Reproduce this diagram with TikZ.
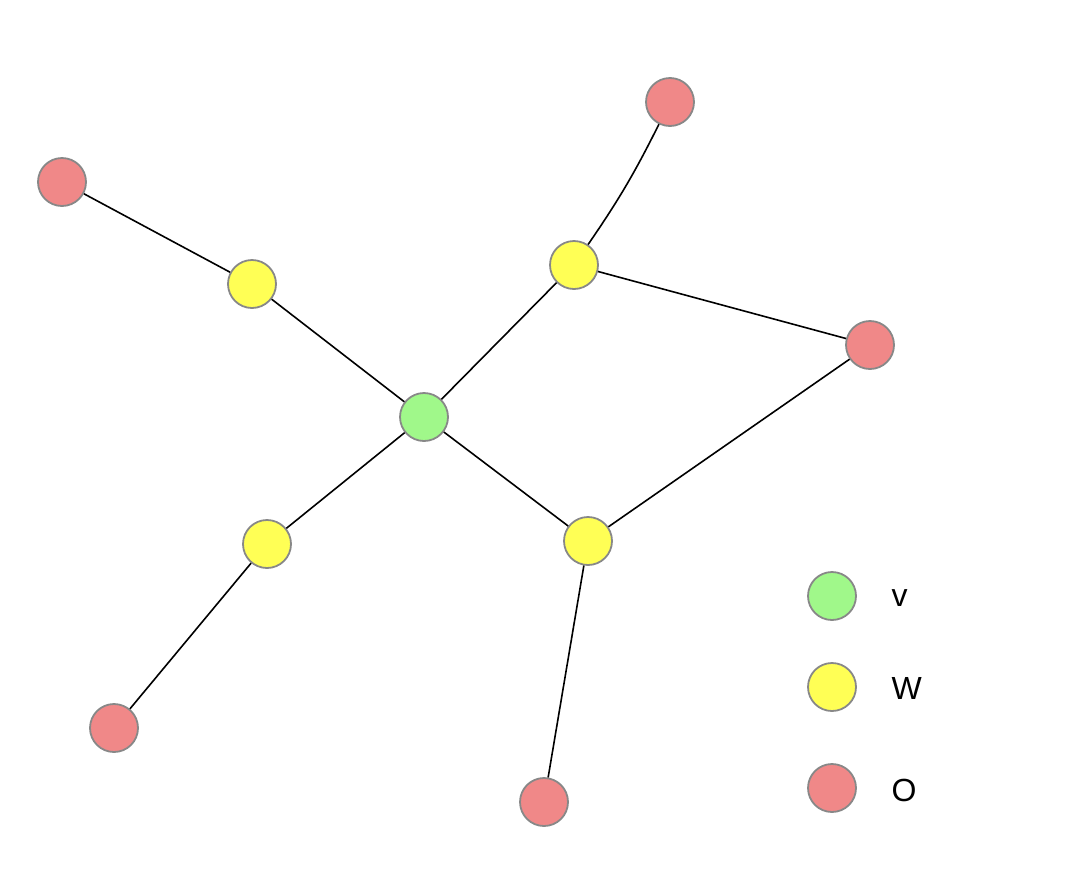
\documentclass[tikz,border=0pt]{standalone}
\usepackage{fontspec}
\setmainfont{Liberation Sans}
\definecolor{vgreen}{HTML}{A0F88A}
\definecolor{wyellow}{HTML}{FFFF55}
\definecolor{ored}{HTML}{F08888}
\definecolor{rim}{HTML}{888888}
\begin{document}
\begin{tikzpicture}[x=1pt,y=-1pt,
  vert/.style={circle,draw=rim,line width=1.8pt,minimum size=48pt,inner sep=0pt},
  vv/.style={vert,fill=vgreen},
  ww/.style={vert,fill=wyellow},
  oo/.style={vert,fill=ored},
  edge/.style={line width=1.6pt,black},
  lab/.style={font=\fontsize{32}{36}\selectfont,anchor=west}]
\useasboundingbox (0,0) rectangle (1066,868);
\node[vv] (g) at (424,417) {};
\node[ww] (y1) at (252,284) {};
\node[ww] (y2) at (574,265) {};
\node[ww] (y3) at (267,544) {};
\node[ww] (y4) at (588,541) {};
\node[oo] (r1) at (62,182) {};
\node[oo] (r2) at (670,102) {};
\node[oo] (r3) at (870,345) {};
\node[oo] (r4) at (114,728) {};
\node[oo] (r5) at (544,802) {};
\draw[edge] (r1) -- (y1);
\draw[edge] (y1) -- (g);
\draw[edge] (g) -- (y2);
\draw[edge] (y2) to[bend right=4] (r2);
\draw[edge] (y2) -- (r3);
\draw[edge] (r3) -- (y4);
\draw[edge] (g) -- (y4);
\draw[edge] (g) -- (y3);
\draw[edge] (y3) -- (r4);
\draw[edge] (y4) -- (r5);
\node[vv] (lv) at (832,596) {};
\node[ww] (lw) at (832,687) {};
\node[oo] (lo) at (832,788) {};
\node[lab] (tv) at (888,598) {v};
\node[lab] (tw) at (888,688) {W};
\node[lab] (to) at (888,790) {O};
\end{tikzpicture}
\end{document}
